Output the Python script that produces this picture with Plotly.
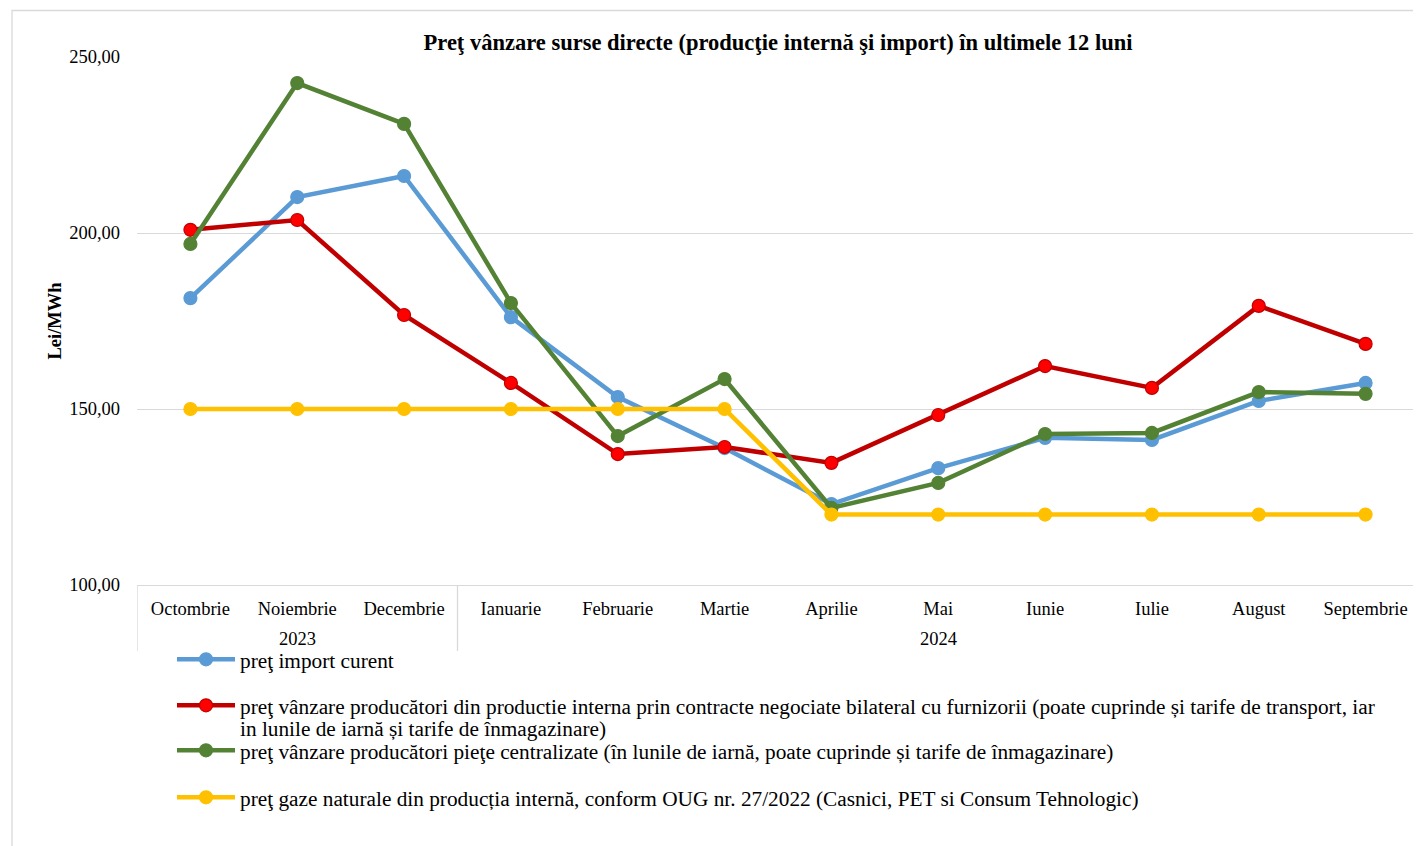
import plotly.graph_objects as go

years = ["2023"] * 3 + ["2024"] * 9
months = ["Octombrie", "Noiembrie", "Decembrie", "Ianuarie", "Februarie", "Martie",
          "Aprilie", "Mai", "Iunie", "Iulie", "August", "Septembrie"]

import_curent = [181.5, 210.2, 216.2, 176.1, 153.4, 138.9, 123.0, 133.2, 141.8, 141.2, 152.3, 157.4]
productie_bilateral = [200.9, 203.7, 176.7, 157.4, 137.2, 139.2, 134.7, 148.3, 162.2, 156.0, 179.3, 168.5]
piete_centralizate = [196.9, 242.6, 231.0, 180.1, 142.3, 158.5, 121.9, 129.0, 142.9, 143.2, 154.8, 154.3]
oug_27_2022 = [150.0, 150.0, 150.0, 150.0, 150.0, 150.0, 120.0, 120.0, 120.0, 120.0, 120.0, 120.0]

names = [
    "preţ import curent",
    "preţ vânzare producători din productie interna prin contracte negociate bilateral cu furnizorii (poate cuprinde și tarife de transport, iar",
    "preţ vânzare producători pieţe centralizate (în lunile de iarnă, poate cuprinde și tarife de înmagazinare)",
    "preţ gaze naturale din producția internă, conform OUG nr. 27/2022 (Casnici, PET si Consum Tehnologic)",
]
red_label_line2 = "in lunile de iarnă și tarife de înmagazinare)"
series = [import_curent, productie_bilateral, piete_centralizate, oug_27_2022]
line_colors = ["#5B9BD5", "#C00000", "#548235", "#FFC000"]
marker_colors = ["#5B9BD5", "#FF0000", "#548235", "#FFC000"]
marker_lines = ["#5B9BD5", "#C00000", "#548235", "#FFC000"]
legends = ["legend", "legend2", "legend3", "legend4"]

FONT = "Liberation Serif"
GRID = "#D9D9D9"
fig = go.Figure()
for vals, nm, lc, mc, ml, lg in zip(series, names, line_colors, marker_colors, marker_lines, legends):
    fig.add_trace(go.Scatter(
        x=months, y=vals, name=nm, mode="lines+markers",
        line=dict(color=lc, width=4.5),
        marker=dict(color=mc, size=13, line=dict(color=ml, width=1.2)),
        cliponaxis=False, legend=lg,
    ))

# page body adds an 8px offset; work in screen pixels and convert
OFF = 8
W, H = 1421 - OFF, 846 - OFF
PL, PR, PT, PB = 137, 1419, 57, 585  # plot area in screen pixels
L, R, T, B = PL - OFF, W - (PR - OFF), PT - OFF, H - (PB - OFF)
pw, ph = PR - PL, PB - PT

def py(pix):
    return (PB - pix) / ph

def px(pix):
    return (pix - PL) / pw

LEG_SIZE = 21.3
leg_common = dict(font=dict(family=FONT, size=LEG_SIZE, color="black"), bgcolor="rgba(0,0,0,0)",
                  xanchor="left", yanchor="top", itemwidth=58, valign="top")
leg_x = px(172)
fig.update_layout(
    legend=dict(x=leg_x, y=py(639), **leg_common),
    legend2=dict(x=leg_x, y=py(685), **leg_common),
    legend3=dict(x=leg_x, y=py(730), **leg_common),
    legend4=dict(x=leg_x, y=py(777), **leg_common),
)
fig.add_annotation(text=red_label_line2, xref="paper", yref="paper", x=px(238), y=py(729),
                   xanchor="left", yanchor="middle", showarrow=False,
                   font=dict(family=FONT, size=LEG_SIZE, color="black"))

# year group labels and dividers of the two-level category axis
groups = []
for i, yr in enumerate(years):
    if not groups or groups[-1][0] != yr:
        groups.append([yr, i, i])
    else:
        groups[-1][2] = i
for yr, i0, i1 in groups:
    fig.add_annotation(text=yr, xref="x", yref="paper", x=(i0 + i1) / 2, y=py(639),
                       xanchor="center", yanchor="middle", showarrow=False,
                       font=dict(family=FONT, size=18.5, color="black"))
bounds = [g[1] - 0.5 for g in groups] + [groups[-1][2] + 0.5]
for b in bounds:
    fig.add_shape(type="line", xref="x", yref="paper", x0=b, x1=b, y0=py(651), y1=0,
                  line=dict(color=GRID, width=1.3))

fig.update_layout(
    width=W, height=H,
    margin=dict(l=L, r=R, t=T, b=B, pad=0, autoexpand=False),
    paper_bgcolor="white", plot_bgcolor="white",
    separators=",.",
    font=dict(family=FONT, size=18.5, color="black"),
    title=dict(text="<b>Preţ vânzare surse directe (producţie internă şi import) în ultimele 12 luni</b>",
               font=dict(family=FONT, size=22.5, color="black"),
               x=0.5, xref="paper", xanchor="center", y=1 - (42 - OFF) / H, yref="container", yanchor="middle"),
    showlegend=True,
)

fig.update_yaxes(
    range=[100, 250], dtick=50, tickformat=".2f", automargin=False,
    showgrid=True, gridcolor=GRID, gridwidth=1.3, zeroline=False,
    showline=False, ticks="", ticklabelstandoff=16,
    tickfont=dict(family=FONT, size=18.5, color="black"),
    title=dict(text="<b>Lei/MWh</b>", font=dict(family=FONT, size=18.5, color="black"), standoff=2),
)
fig.update_xaxes(
    type="category", automargin=False, range=[-0.5, len(months) - 0.5],
    showline=True, linecolor=GRID, linewidth=1.3,
    showgrid=False, ticks="", ticklabelstandoff=7,
    tickfont=dict(family=FONT, size=18.5, color="black"),
)

fig.add_shape(type="rect", xref="paper", yref="paper",
              x0=px(12), x1=px(1420.5), y0=py(860), y1=py(10.5),
              line=dict(color=GRID, width=1.3), fillcolor="rgba(0,0,0,0)", layer="below")

fig.write_html("out.html")
